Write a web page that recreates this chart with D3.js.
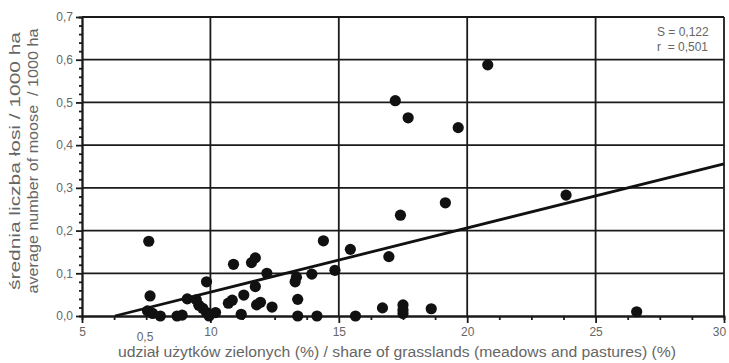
<!DOCTYPE html>
<html>
<head>
<meta charset="utf-8">
<script src="https://cdn.jsdelivr.net/npm/d3@7"></script>
<style>
  body { margin: 0; background: #fff; }
  text { font-family: "Liberation Sans", Arial, sans-serif; fill: #666; }
</style>
</head>
<body>
<div id="chart"></div>
<script>
// share of grasslands (%) vs average number of moose / 1000 ha
const grassShare = [7.6, 7.65, 7.55, 7.75, 8.05, 8.7, 8.9, 9.1, 9.45, 9.55, 9.7, 9.85, 9.95, 10.2, 9.85,
  10.9, 11.6, 11.75, 10.7, 10.85, 11.3, 11.2, 11.75, 12.2, 11.8, 11.95, 12.4, 13.3, 13.35, 13.4, 13.4,
  13.95, 14.15, 14.4, 14.85, 15.45, 15.65, 16.7, 16.95, 17.5, 17.5, 17.5, 18.6, 26.6, 20.8, 17.2, 17.7,
  19.65, 19.15, 17.4, 23.85]
const moose = [0.175, 0.047, 0.012, 0.006, 0.0, 0.0, 0.002, 0.040, 0.038, 0.025, 0.018, 0.008, 0.0, 0.008, 0.080,
  0.121, 0.125, 0.136, 0.030, 0.037, 0.049, 0.004, 0.069, 0.100, 0.026, 0.032, 0.021, 0.080, 0.091, 0.039, 0.0,
  0.098, 0.0, 0.176, 0.107, 0.156, 0.0, 0.019, 0.139, 0.026, 0.014, 0.006, 0.017, 0.010, 0.588, 0.504, 0.464,
  0.441, 0.265, 0.236, 0.283]
// trend line y = a + b*x, drawn from where it meets 0
const trendA = -0.0943
const trendB = 0.01502
const xTicks = [5, 10, 15, 20, 25, 30]
const yTicks = [0, 0.1, 0.2, 0.3, 0.4, 0.5, 0.6, 0.7]
const stats = ['S = 0,122', 'r  = 0,501']

const width = 729, height = 363
const mLeft = 82, mRight = 724, mTop = 17, mBottom = 316

const svg = d3.select('#chart').append('svg').attr('width', width).attr('height', height)
svg.append('rect').attr('width', width).attr('height', height).attr('fill', '#fff')

const x = d3.scaleLinear().domain([5, 30]).range([mLeft, mRight])
const y = d3.scaleLinear().domain([0, 0.7]).range([mBottom, mTop])
const fmt = d => d3.format('.1f')(d).replace('.', ',')

// grid
const grid = svg.append('g').attr('stroke', '#1a1a1a').attr('stroke-width', 1.8)
grid.selectAll('.v').data(xTicks.slice(1)).join('line')
  .attr('x1', d => x(d)).attr('x2', d => x(d)).attr('y1', mTop).attr('y2', mBottom)
grid.selectAll('.h').data(yTicks.slice(1)).join('line')
  .attr('y1', d => y(d)).attr('y2', d => y(d)).attr('x1', mLeft).attr('x2', mRight)

// minor ticks
const xMinor = d3.range(5, 30.01, 1.25).filter(d => !xTicks.includes(d))
const yMinor = d3.range(0, 0.701, 0.02).filter(d => Math.abs(d * 10 - Math.round(d * 10)) > 0.01)
svg.append('g').attr('transform', `translate(0,${mBottom})`)
  .call(d3.axisBottom(x).tickValues(xMinor).tickSize(4).tickFormat(''))
svg.append('g').attr('transform', `translate(${mLeft},0)`)
  .call(d3.axisLeft(y).tickValues(yMinor).tickSize(3).tickFormat(''))

// main axes
const xAxis = svg.append('g').attr('transform', `translate(0,${mBottom})`)
  .call(d3.axisBottom(x).tickValues(xTicks).tickSize(7).tickPadding(4).tickSizeOuter(0))
svg.append('g').attr('transform', `translate(${mLeft},0)`)
  .call(d3.axisLeft(y).tickValues(yTicks).tickSize(6).tickPadding(3).tickFormat(fmt).tickSizeOuter(0))
svg.selectAll('.domain, .tick line').attr('stroke', '#1a1a1a').attr('stroke-width', 1.8)
svg.selectAll('.tick text').attr('fill', '#666').style('font-size', '12px')
  .style('font-family', '"Liberation Sans", Arial, sans-serif')
// keep the last label inside the window
xAxis.selectAll('.tick text').filter(d => d === 30).attr('dx', -5)

// points
svg.append('g').selectAll('circle').data(grassShare).join('circle')
  .attr('cx', d => x(d)).attr('cy', (d, i) => y(moose[i])).attr('r', 5.6)
  .attr('fill', '#111')

// trend line
const x0 = -trendA / trendB
svg.append('line')
  .attr('x1', x(x0)).attr('y1', y(trendA + trendB * x0))
  .attr('x2', x(30)).attr('y2', y(trendA + trendB * 30))
  .attr('stroke', '#111').attr('stroke-width', 2.8)

// stats box text
svg.selectAll('.stat').data(stats).join('text')
  .attr('x', 657).attr('y', (d, i) => 36 + i * 15)
  .style('font-size', '12px').style('white-space', 'pre')
  .text(d => d)

// stray label under the axis
svg.append('text').attr('x', 145).attr('y', 341).attr('text-anchor', 'middle')
  .style('font-size', '12px').text('0,5')

// axis titles
svg.append('text').attr('x', 118).attr('y', 357)
  .attr('textLength', 558).attr('lengthAdjust', 'spacingAndGlyphs')
  .style('font-size', '14px')
  .text('udział użytków zielonych (%) / share of grasslands (meadows and pastures) (%)')
svg.append('text').attr('transform', 'translate(20,161) rotate(-90)').attr('text-anchor', 'middle')
  .attr('textLength', 258).attr('lengthAdjust', 'spacingAndGlyphs')
  .style('font-size', '14px').text('średnia liczba łosi / 1000 ha')
svg.append('text').attr('transform', 'translate(38,161) rotate(-90)').attr('text-anchor', 'middle')
  .attr('textLength', 265).attr('lengthAdjust', 'spacingAndGlyphs')
  .style('font-size', '14px').style('white-space', 'pre').text('average number of moose  / 1000 ha')
</script>
</body>
</html>
